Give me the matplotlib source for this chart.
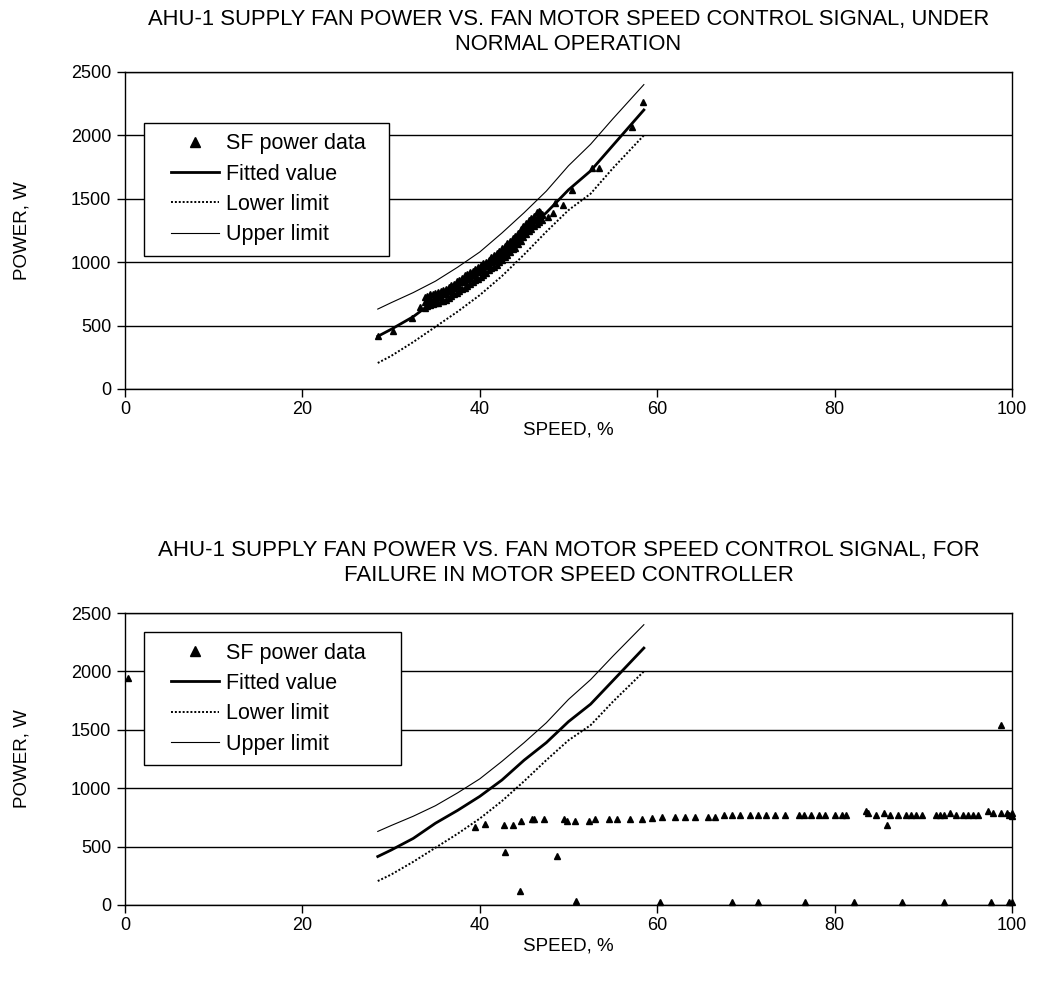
import matplotlib.pyplot as plt
import numpy as np
from matplotlib.lines import Line2D
from matplotlib.legend_handler import HandlerLine2D

plt.rcParams['font.family'] = ['Liberation Sans', 'DejaVu Sans']

# fitted model and limits (shared by both panels)
speed_fit = [28.5, 30, 32.5, 35, 37.5, 40, 42.5, 45, 47.5, 50, 52.5, 55, 58.5]
fitted = [415, 470, 570, 700, 810, 930, 1070, 1240, 1390, 1570, 1720, 1920, 2200]
upper = [630, 680, 760, 850, 960, 1080, 1230, 1390, 1560, 1760, 1930, 2130, 2400]
lower = [205, 260, 370, 490, 610, 740, 890, 1060, 1240, 1410, 1540, 1740, 2000]

# SF power data, normal operation: the dense band between 34 % and 47 %
band_speed = [33.8, 34.1, 34.4, 34.7, 35.0, 35.3, 35.6, 35.9, 36.2, 36.5, 36.8,
              37.1, 37.4, 37.7, 38.0, 38.3, 38.6, 38.9, 39.2, 39.5, 39.8, 40.1,
              40.4, 40.7, 41.0, 41.3, 41.6, 41.9, 42.2, 42.5, 42.8, 43.1, 43.4,
              43.7, 44.0, 44.3, 44.6, 44.9, 45.2, 45.5, 45.8, 46.1, 46.4, 46.7, 47.0]
band_low = [640, 655, 660, 670, 675, 680, 690, 695, 705, 720, 735,
            745, 760, 775, 790, 800, 815, 830, 845, 860, 870, 885,
            900, 915, 935, 950, 965, 980, 1000, 1020, 1040, 1060, 1080,
            1100, 1115, 1140, 1170, 1200, 1220, 1245, 1265, 1285, 1300, 1320, 1335]
band_mid = [685, 700, 715, 705, 720, 735, 725, 745, 750, 770, 775,
            795, 810, 815, 840, 850, 870, 875, 895, 900, 925, 935,
            945, 970, 980, 1000, 1010, 1030, 1050, 1065, 1090, 1105, 1130,
            1145, 1165, 1190, 1215, 1245, 1265, 1290, 1310, 1330, 1345, 1360, 1375]
band_high = [725, 735, 745, 750, 760, 765, 775, 780, 790, 805, 820,
             830, 850, 860, 875, 895, 905, 920, 930, 945, 960, 975,
             990, 1005, 1020, 1040, 1055, 1070, 1090, 1110, 1130, 1150, 1170,
             1190, 1205, 1230, 1260, 1285, 1305, 1330, 1350, 1365, 1395, 1400, 1380]
# isolated points of the normal-operation data
sparse_speed = [28.5, 30.2, 32.4, 33.3, 46.8, 47.7, 48.3, 48.5, 49.4, 50.4,
                52.6, 53.4, 57.2, 58.4]
sparse_power = [420, 460, 560, 650, 1398, 1356, 1390, 1464, 1451, 1570,
                1743, 1743, 2066, 2260]

# SF power data, failure in motor speed controller
speed_fail = [0.3, 39.5, 40.6, 42.7, 43.8, 44.7, 45.9, 46.1, 47.2, 49.5, 49.8, 50.7,
              52.3, 53.0, 54.6, 55.5, 56.9, 58.3, 59.4, 60.6, 62.0, 63.1, 64.3,
              65.7, 66.5, 67.5, 68.4, 69.3, 70.5, 71.4, 72.3, 73.3, 74.4, 76.0,
              76.5, 77.3, 78.3, 78.9, 80.1, 80.8, 81.3, 83.5, 83.8, 84.7, 85.6,
              86.2, 85.9, 87.1, 88.0, 88.6, 89.2, 89.9, 91.4, 91.9, 92.3, 93.0,
              93.7, 94.5, 95.1, 95.6, 96.2, 97.3, 97.9, 98.8, 99.4, 99.7, 100, 100,
              98.8, 42.8, 48.7, 44.5, 50.9, 60.3, 68.4, 71.4, 76.7, 82.2, 87.6,
              92.3, 97.6, 99.7, 100]
power_fail = [1943, 670, 693, 685, 685, 722, 739, 739, 739, 736, 722, 722,
              722, 739, 739, 739, 739, 739, 745, 756, 756, 756, 756,
              750, 750, 773, 773, 773, 773, 773, 773, 773, 773, 773,
              773, 773, 773, 773, 773, 773, 773, 802, 785, 768, 790,
              768, 685, 768, 768, 768, 768, 768, 768, 768, 768, 790,
              768, 768, 768, 768, 768, 808, 790, 785, 785, 768, 760, 790,
              1541, 456, 422, 122, 37, 25, 25, 25, 25, 25, 25,
              25, 25, 25, 25]

titles = ["AHU-1 SUPPLY FAN POWER VS. FAN MOTOR SPEED CONTROL SIGNAL, UNDER\nNORMAL OPERATION",
          "AHU-1 SUPPLY FAN POWER VS. FAN MOTOR SPEED CONTROL SIGNAL, FOR\nFAILURE IN MOTOR SPEED CONTROLLER"]

speed_normal = sparse_speed[:4] + band_speed * 3 + sparse_speed[4:]
power_normal = sparse_power[:4] + band_low + band_mid + band_high + sparse_power[4:]


class PaddedLine(HandlerLine2D):
    # legend handle with extra blank space on its left, like the original box
    def get_xdata(self, legend, xdescent, ydescent, width, height, fontsize):
        pad = 0.75 * fontsize
        x0 = -xdescent + pad
        x1 = -xdescent + width
        return np.array([x0, x1]), np.array([0.5 * (x0 + x1)])


fig = plt.figure(figsize=(10.38, 9.84), dpi=100)
ax1 = fig.add_axes([0.1204, 0.6047, 0.8545, 0.3222])
ax2 = fig.add_axes([0.1204, 0.0803, 0.8545, 0.2967])

panels = [(ax1, speed_normal, power_normal, titles[0], 0.84, 15.8, 16, '  '),
          (ax2, speed_fail, power_fail, titles[1], 0.935, 16.0, 23, '    ')]

for ax, sx, sy, title, leg_y, tsize, tpad, tail in panels:
    ax.set_xlim(0, 100)
    ax.set_ylim(0, 2500)
    ax.set_xticks([0, 20, 40, 60, 80, 100])
    ax.set_yticks([0, 500, 1000, 1500, 2000, 2500])
    ax.yaxis.grid(True, color='black', linewidth=1.0)
    ax.set_axisbelow(True)
    for s in ax.spines.values():
        s.set_linewidth(1.0)
    ax.tick_params(labelsize=13, length=6, width=1)
    ax.tick_params(axis='x', pad=3)
    ax.tick_params(axis='y', pad=4)

    ax.plot(sx, sy, linestyle='none', marker='^', color='black', markersize=5,
            label='SF power data' + tail, clip_on=False, zorder=3)
    ax.plot(speed_fit, fitted, color='black', linewidth=2.0, label='Fitted value', zorder=4)
    ax.plot(speed_fit, lower, color='black', linewidth=1.4, linestyle=(0, (1, 1)),
            label='Lower limit', zorder=4)
    ax.plot(speed_fit, upper, color='black', linewidth=0.8, label='Upper limit', zorder=4)

    ax.set_title(title, fontsize=tsize, pad=tpad, linespacing=1.25)
    ax.set_xlabel('SPEED, %', fontsize=13.5, labelpad=2)
    ax.set_ylabel('POWER, W', fontsize=13.5, labelpad=29)

    leg = ax.legend(loc='upper left', bbox_to_anchor=(0.021, leg_y), fontsize=15.5,
                    frameon=True, fancybox=False, edgecolor='black', framealpha=1,
                    borderpad=0.5, labelspacing=0.43, handlelength=3.0, handletextpad=0.35,
                    markerscale=1.3, borderaxespad=0,
                    handler_map={Line2D: PaddedLine()})
    leg.get_frame().set_linewidth(1.0)
    leg.set_zorder(5)

fig.savefig('out.png', dpi=100)
